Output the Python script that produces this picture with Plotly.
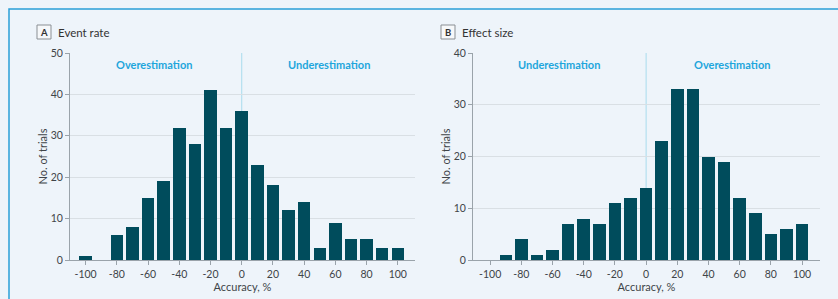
import plotly.graph_objects as go

# Data
bins = [-100, -90, -80, -70, -60, -50, -40, -30, -20, -10, 0, 10, 20, 30, 40, 50, 60, 70, 80, 90, 100]
event_rate = [1, 0, 6, 8, 15, 19, 32, 28, 41, 32, 36, 23, 18, 12, 14, 3, 9, 5, 5, 3, 3]
effect_size = [0, 1, 4, 1, 2, 7, 8, 7, 11, 12, 14, 23, 33, 33, 20, 19, 12, 9, 5, 6, 7]
x_ticks = [-100, -80, -60, -40, -20, 0, 20, 40, 60, 80, 100]
x_tick_labels = ["-100", "-80", "-60", "-40", "-20", "0", "20", "40", "60", "80", "100"]
y_ticks_a = [0, 10, 20, 30, 40, 50]
y_ticks_b = [0, 10, 20, 30, 40]

W, H = 838, 299
BG = "#eef4fa"
BAR = "#004c5c"
CYAN = "#1ea6dc"
FONT = "Lato"
TXT = "#404448"

def px(x):
    return x / W

def py(y):
    return 1 - y / H

fig = go.Figure()
fig.add_trace(go.Bar(x=bins, y=event_rate, width=8, marker=dict(color=BAR, line=dict(width=0)),
                     xaxis="x", yaxis="y", showlegend=False))
fig.add_trace(go.Bar(x=bins, y=effect_size, width=8, marker=dict(color=BAR, line=dict(width=0)),
                     xaxis="x2", yaxis="y2", showlegend=False))

ydom = [py(260), py(53)]
axis_common = dict(showline=True, linecolor="#9aa3aa", linewidth=1, ticks="outside", ticklen=4,
                   tickcolor="#9aa3aa", tickfont=dict(family=FONT, size=10.5, color=TXT),
                   zeroline=False)
xt = dict(text="Accuracy, %", font=dict(family=FONT, size=11, color=TXT), standoff=0)
yt = dict(text="No. of trials", font=dict(family=FONT, size=11, color=TXT), standoff=0)

fig.update_layout(
    width=W, height=H, margin=dict(l=0, r=0, t=0, b=0, autoexpand=False),
    paper_bgcolor=BG, plot_bgcolor=BG, bargap=0,
    xaxis=dict(domain=[px(70), px(415)], range=[-110, 111], tickvals=x_ticks, ticktext=x_tick_labels,
               showgrid=False, title=xt, anchor="y", **axis_common),
    yaxis=dict(domain=ydom, range=[0, 50], tickvals=y_ticks_a, showgrid=True, gridcolor="#d9dfe4",
               title=yt, anchor="x", **axis_common),
    xaxis2=dict(domain=[px(473), px(820)], range=[-111, 111.5], tickvals=x_ticks, ticktext=x_tick_labels,
                showgrid=False, title=xt, anchor="y2", **axis_common),
    yaxis2=dict(domain=ydom, range=[0, 40], tickvals=y_ticks_b, showgrid=True, gridcolor="#d9dfe4",
                title=yt, anchor="x2", **axis_common),
)

# zero lines
fig.add_shape(type="line", xref="x", yref="y", x0=0, x1=0, y0=0, y1=50, line=dict(color="#a9dcee", width=1), layer="below")
fig.add_shape(type="line", xref="x2", yref="y2", x0=0, x1=0, y0=0, y1=40, line=dict(color="#a9dcee", width=1), layer="below")

# outer border
fig.add_shape(type="rect", xref="paper", yref="paper", x0=px(9), x1=1.05, y0=-0.05, y1=py(9),
              line=dict(color="#2a9fd8", width=1.5), fillcolor="rgba(0,0,0,0)")

# region labels
lab = dict(showarrow=False, font=dict(family=FONT, size=11, color=CYAN, weight=700), yanchor="middle")
fig.add_annotation(x=-56, y=47.3, xref="x", yref="y", text="Overestimation", **lab)
fig.add_annotation(x=56, y=47.3, xref="x", yref="y", text="Underestimation", **lab)
fig.add_annotation(x=-56, y=37.8, xref="x2", yref="y2", text="Underestimation", **lab)
fig.add_annotation(x=55, y=37.8, xref="x2", yref="y2", text="Overestimation", **lab)

# panel labels
for letter, title, x0 in [("A", "Event rate", 37), ("B", "Effect size", 441)]:
    fig.add_shape(type="rect", xref="paper", yref="paper", x0=px(x0), x1=px(x0 + 14), y0=py(39), y1=py(25),
                  line=dict(color="#8a8f94", width=1), fillcolor="#f6f8fa")
    fig.add_annotation(x=px(x0 + 7), y=py(32), xref="paper", yref="paper", text="<b>" + letter + "</b>",
                       showarrow=False, yanchor="middle", xanchor="center",
                       font=dict(family=FONT, size=9.5, color="#333"))
    fig.add_annotation(x=px(x0 + 19), y=py(32), xref="paper", yref="paper", text=title, xanchor="left",
                       showarrow=False, yanchor="middle", font=dict(family=FONT, size=11.5, color="#333"))

fig.write_html("out.html", config={"displayModeBar": False},
               post_script="document.body.style.margin='0';")
